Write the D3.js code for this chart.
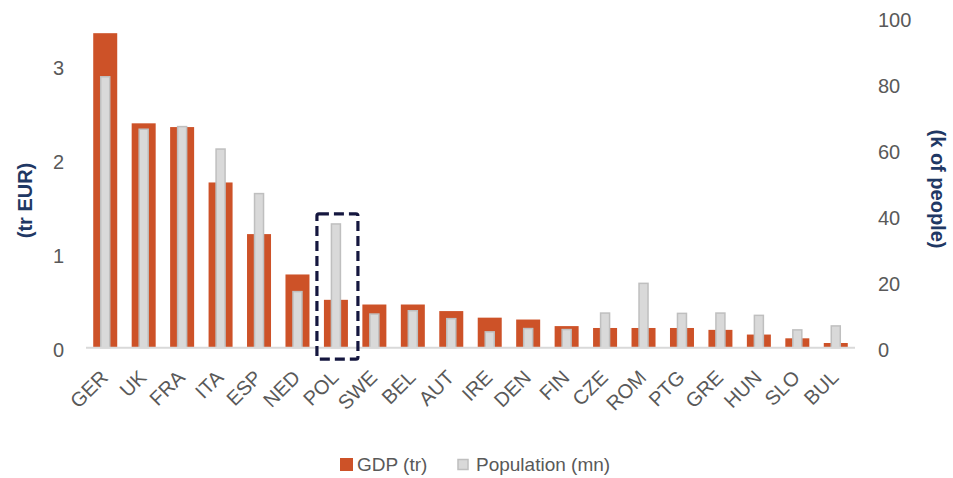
<!DOCTYPE html>
<html>
<head>
<meta charset="utf-8">
<script src="https://cdn.jsdelivr.net/npm/d3@7"></script>
<style>
  html, body { margin: 0; padding: 0; background: #fff; }
  svg { display: block; font-family: "Liberation Sans", Arial, sans-serif; }
</style>
</head>
<body>
<svg id="chart" width="953" height="478"></svg>
<script>
// Country codes, ordered by GDP
const countries = ["GER","UK","FRA","ITA","ESP","NED","POL","SWE","BEL","AUT",
                   "IRE","DEN","FIN","CZE","ROM","PTG","GRE","HUN","SLO","BUL"];
// GDP, trillions of EUR
const gdp = [3.35, 2.39, 2.35, 1.76, 1.21, 0.78, 0.51, 0.46, 0.46, 0.39,
             0.32, 0.30, 0.23, 0.21, 0.21, 0.21, 0.19, 0.14, 0.10, 0.05];
// Population, millions
const population = [82.1, 66.2, 67.0, 60.2, 46.7, 17.0, 37.5, 10.2, 11.2, 8.8,
                    4.8, 5.8, 5.5, 10.5, 19.5, 10.4, 10.5, 9.8, 5.4, 6.6];
const gdpTicks = [0, 1, 2, 3];
const popTicks = [0, 20, 40, 60, 80, 100];
const highlighted = "POL";

const orange = "#CD5228";
const greyFill = "#D9D9D9";
const greyEdge = "#BFBFBF";
const textGrey = "#595959";
const navy = "#1F3864";

const svg = d3.select("#chart");
const plot = { left: 86, right: 855, top: 17.7, bottom: 347.7 };

const x = d3.scaleBand().domain(countries).range([plot.left, plot.right]).padding(0);
const yGdp = d3.scaleLinear().domain([0, 3.515]).range([plot.bottom, plot.top]);
const yPop = d3.scaleLinear().domain([0, 100]).range([plot.bottom, plot.top]);

const gdpW = 24, popW = 9;

// GDP bars
svg.append("g").selectAll("rect").data(countries).join("rect")
  .attr("x", (d) => x(d) + x.bandwidth() / 2 - gdpW / 2)
  .attr("width", gdpW)
  .attr("y", (d, i) => yGdp(gdp[i]))
  .attr("height", (d, i) => yGdp(0) - yGdp(gdp[i]))
  .attr("fill", orange);

// Population bars (narrow, overlaid)
svg.append("g").selectAll("rect").data(countries).join("rect")
  .attr("x", (d) => x(d) + x.bandwidth() / 2 - popW / 2)
  .attr("width", popW)
  .attr("y", (d, i) => yPop(population[i]))
  .attr("height", (d, i) => yPop(0) - yPop(population[i]))
  .attr("fill", greyFill)
  .attr("stroke", greyEdge)
  .attr("stroke-width", 1.5);

// Category baseline
svg.append("line")
  .attr("x1", plot.left).attr("x2", plot.right)
  .attr("y1", yGdp(0)).attr("y2", yGdp(0))
  .attr("stroke", "#D9D9D9").attr("stroke-width", 2);

// Left axis (GDP)
const leftAxis = svg.append("g")
  .attr("transform", `translate(${plot.left - 22},0)`)
  .call(d3.axisLeft(yGdp).tickValues(gdpTicks).tickFormat(d3.format("d")).tickSize(0).tickPadding(0));
leftAxis.select(".domain").remove();
leftAxis.selectAll("text").attr("font-size", 20).attr("fill", textGrey)
  .attr("font-family", "'Liberation Sans', Arial, sans-serif").attr("dy", "0.42em");

// Right axis (population)
const rightAxis = svg.append("g")
  .attr("transform", `translate(${plot.right + 23},0)`)
  .call(d3.axisRight(yPop).tickValues(popTicks).tickSize(0).tickPadding(0));
rightAxis.select(".domain").remove();
rightAxis.selectAll("text").attr("font-size", 20).attr("fill", textGrey)
  .attr("font-family", "'Liberation Sans', Arial, sans-serif").attr("dy", "0.42em");

// Category labels, slanted
const bottomAxis = svg.append("g")
  .attr("transform", `translate(0,${plot.bottom})`)
  .call(d3.axisBottom(x).tickSize(0).tickPadding(0));
bottomAxis.select(".domain").remove();
bottomAxis.selectAll("text")
  .attr("font-size", 20).attr("fill", textGrey)
  .attr("font-family", "'Liberation Sans', Arial, sans-serif")
  .attr("text-anchor", "end")
  .attr("y", 0).attr("dy", 0)
  .attr("transform", "translate(4,31) rotate(-45)");

// Axis titles
svg.append("text")
  .attr("transform", "translate(32,200.5) rotate(-90)")
  .attr("text-anchor", "middle")
  .attr("font-size", 20).attr("font-weight", "bold").attr("fill", navy)
  .text("(tr EUR)");
svg.append("text")
  .attr("transform", "translate(931,189) rotate(90)")
  .attr("text-anchor", "middle")
  .attr("font-size", 20).attr("font-weight", "bold").attr("fill", navy)
  .text("(k of people)");

// Dashed highlight around one country
const hi = countries.indexOf(highlighted);
const hx = x(highlighted) + x.bandwidth() / 2;
const hTop = yPop(population[hi]) - 10;
svg.append("rect")
  .attr("x", hx - 19).attr("width", 41)
  .attr("y", hTop)
  .attr("height", yGdp(0) + 11.5 - hTop)
  .attr("rx", 2)
  .attr("fill", "none")
  .attr("stroke", "#15173F")
  .attr("stroke-width", 3.2)
  .attr("stroke-dasharray", "10,5");

// Legend
const legend = svg.append("g").attr("transform", "translate(340,458)");
legend.append("rect").attr("x", 0).attr("y", 0).attr("width", 13).attr("height", 13).attr("fill", orange);
legend.append("text").attr("x", 17).attr("y", 13).attr("font-size", 19).attr("fill", textGrey).text("GDP (tr)");
legend.append("rect").attr("x", 118).attr("y", 1.5).attr("width", 10).attr("height", 10)
  .attr("fill", greyFill).attr("stroke", greyEdge).attr("stroke-width", 1.5);
legend.append("text").attr("x", 136).attr("y", 13).attr("font-size", 19).attr("fill", textGrey).text("Population (mn)");
</script>
</body>
</html>
